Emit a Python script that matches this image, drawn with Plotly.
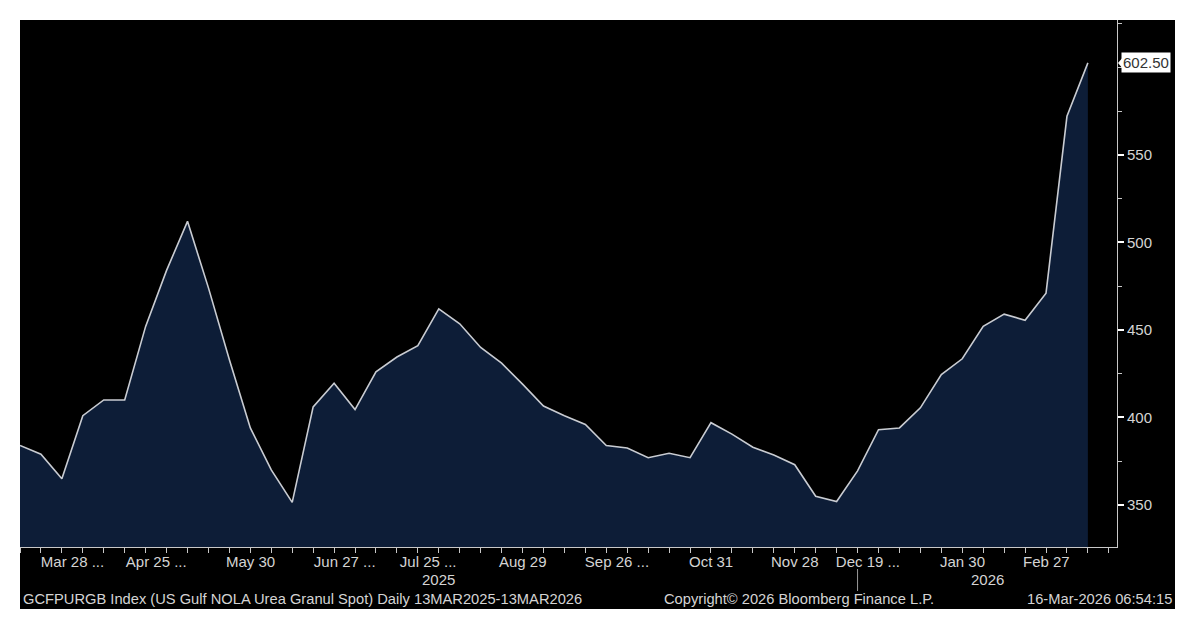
import plotly.graph_objects as go

# ---------------- data ----------------
dates = [
    "2025-03-14", "2025-03-21", "2025-03-28", "2025-04-04", "2025-04-11", "2025-04-18",
    "2025-04-25", "2025-05-02", "2025-05-09", "2025-05-16", "2025-05-23", "2025-05-30",
    "2025-06-06", "2025-06-13", "2025-06-20", "2025-06-27", "2025-07-04", "2025-07-11",
    "2025-07-18", "2025-07-25", "2025-08-01", "2025-08-08", "2025-08-15", "2025-08-22",
    "2025-08-29", "2025-09-05", "2025-09-12", "2025-09-19", "2025-09-26", "2025-10-03",
    "2025-10-10", "2025-10-17", "2025-10-24", "2025-10-31", "2025-11-07", "2025-11-14",
    "2025-11-21", "2025-11-28", "2025-12-05", "2025-12-12", "2025-12-19", "2026-01-02",
    "2026-01-09", "2026-01-16", "2026-01-23", "2026-01-30", "2026-02-06", "2026-02-13",
    "2026-02-20", "2026-02-27", "2026-03-06", "2026-03-13",
]
prices = [
    384, 379, 365, 401, 410, 410,
    452, 484, 512, 474, 433, 394,
    370, 351.5, 406, 419.5, 404.5, 426,
    434.5, 441, 462, 453.5, 440, 431,
    419, 406.5, 401, 396, 384, 382.5,
    377, 379.5, 377, 397, 390.5, 383,
    378.5, 373, 355, 352, 369.5, 393,
    394, 405.5, 424.5, 433.5, 452, 459,
    455.5, 471, 572, 602.5,
]
label_dates = ["2025-03-28", "2025-04-25", "2025-05-30", "2025-06-27", "2025-07-25", "2025-08-29",
               "2025-09-26", "2025-10-31", "2025-11-28", "2025-12-19", "2026-01-30", "2026-02-27"]
label_texts = ["Mar 28 ...", "Apr 25 ...", "May 30", "Jun 27 ...", "Jul 25 ...", "Aug 29",
               "Sep 26 ...", "Oct 31", "Nov 28", "Dec 19 ...", "Jan 30", "Feb 27"]
year_labels = ["2025", "2026"]
y_ticks = [350, 400, 450, 500, 550]
last_label = "602.50"
footer_left = "GCFPURGB Index (US Gulf NOLA Urea Granul Spot) Daily 13MAR2025-13MAR2026"
footer_mid = "Copyright\u00a9 2026 Bloomberg Finance L.P."
footer_right = "16-Mar-2026 06:54:15"

# ---------------- layout constants ----------------
W, H = 1200, 632
ML, MR, MT, MB = 20, 83, 20, 85
PW, PH = W - ML - MR, H - MT - MB
FONT = "Liberation Sans"
TXT = "#d4d4d4"


def px_x(px):
    return (px - ML) / PW


def px_y(py):
    return (H - MB - py) / PH


xs = list(range(len(dates)))
n_ticks = len(dates) + 1
tickvals = list(range(n_ticks))

fig = go.Figure()
fig.add_trace(go.Scatter(
    x=xs, y=prices, mode="lines",
    line=dict(color="#c9ccd2", width=1.6),
    fill="tozeroy", fillcolor="#0d1d37",
    hoverinfo="skip", showlegend=False,
))

shapes = [
    # black panel
    dict(type="rect", xref="paper", yref="paper", layer="below",
         x0=px_x(20), x1=px_x(1175), y0=px_y(609), y1=px_y(20),
         fillcolor="black", line=dict(width=0)),
    # year separator
    dict(type="line", xref="x", yref="paper",
         x0=dates.index("2025-12-19"), x1=dates.index("2025-12-19"),
         y0=px_y(569), y1=px_y(591), line=dict(color="#9a9a9a", width=1)),
    # arrow of last value flag
    dict(type="path", xref="paper", yref="y",
         path=f"M {px_x(1118)},{prices[-1]} L {px_x(1124)},{prices[-1] + 4} L {px_x(1124)},{prices[-1] - 4} Z",
         fillcolor="white", line=dict(width=0)),
]

tick_font = dict(family=FONT, size=15, color=TXT)
annotations = []
for d, t in zip(label_dates, label_texts):
    if t.endswith("..."):
        t = "\u00a0" * 5 + t
    annotations.append(dict(x=dates.index(d), y=px_y(561), xref="x", yref="paper", text=t,
                            showarrow=False, xanchor="center", yanchor="middle", font=tick_font))

annotations += [
    dict(x=20, y=px_y(579), xref="x", yref="paper", text=year_labels[0], showarrow=False,
         yanchor="middle", font=tick_font),
    dict(x=46.2, y=px_y(579), xref="x", yref="paper", text=year_labels[1], showarrow=False,
         yanchor="middle", font=tick_font),
    dict(x=px_x(21), y=px_y(599), xref="paper", yref="paper", text=footer_left, showarrow=False,
         xanchor="left", yanchor="middle", font=dict(family=FONT, size=14.7, color=TXT)),
    dict(x=px_x(799), y=px_y(599), xref="paper", yref="paper", text=footer_mid, showarrow=False,
         xanchor="center", yanchor="middle", font=dict(family=FONT, size=14.7, color=TXT)),
    dict(x=px_x(1174), y=px_y(599), xref="paper", yref="paper", text=footer_right, showarrow=False,
         xanchor="right", yanchor="middle", font=dict(family=FONT, size=14.7, color=TXT)),
    dict(x=px_x(1121), y=prices[-1], xref="paper", yref="y", text=last_label, showarrow=False,
         xanchor="left", bgcolor="white", borderpad=1,
         font=dict(family=FONT, size=15, color="#333333")),
]

fig.update_layout(
    width=W, height=H,
    margin=dict(l=ML, r=MR, t=MT, b=MB, pad=0),
    paper_bgcolor="white", plot_bgcolor="black",
    shapes=shapes, annotations=annotations,
    xaxis=dict(
        range=[0, 52.39], showgrid=False, zeroline=False, fixedrange=True,
        showline=True, linecolor="#c8c8c8", linewidth=1,
        tickmode="array", tickvals=tickvals, ticktext=[""] * n_ticks,
        ticks="outside", ticklen=5, tickcolor="#c8c8c8", tickwidth=1,
    ),
    yaxis=dict(
        side="right", range=[326, 627], showgrid=False, zeroline=False, fixedrange=True,
        showline=True, linecolor="#c8c8c8", linewidth=1, mirror=False,
        tickmode="array", tickvals=y_ticks,
        ticks="outside", ticklen=6, tickcolor="white", tickwidth=2,
        minor=dict(dtick=25, tick0=0, ticks="outside", ticklen=4, tickcolor="#c8c8c8", tickwidth=1),
        tickfont=tick_font,
    ),
)

fig.write_html(
    "out.html",
    config={"displayModeBar": False, "staticPlot": True},
    post_script="document.body.style.margin='0';document.body.style.overflow='hidden';",
)
